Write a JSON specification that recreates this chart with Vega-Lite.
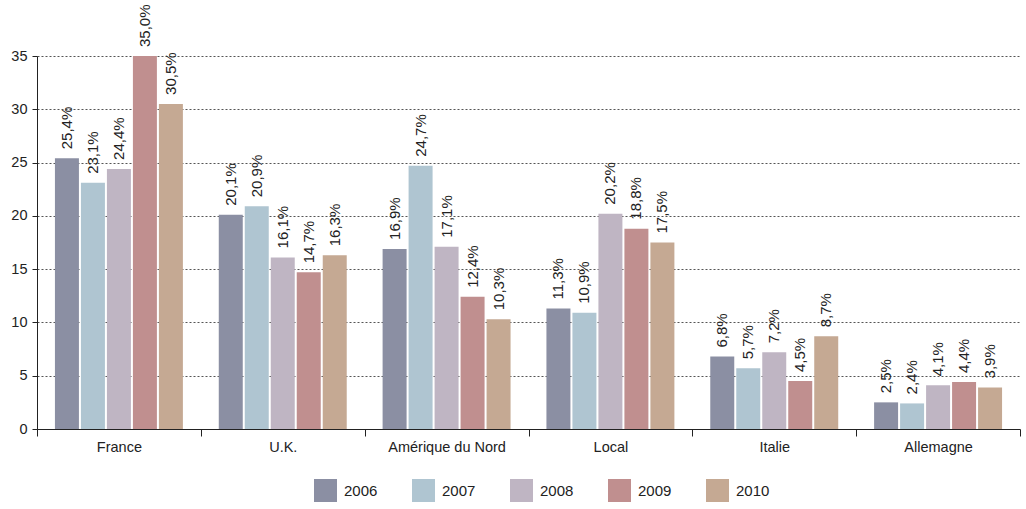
{
  "$schema": "https://vega.github.io/schema/vega-lite/v6.json",
  "width": 983,
  "height": 373,
  "autosize": {"type": "none"},
  "padding": {"left": 37, "top": 56, "right": 6, "bottom": 80},
  "background": "white",
  "config": {
    "font": "Liberation Sans",
    "view": {"stroke": null},
    "axis": {"labelFont": "Liberation Sans", "labelColor": "#222", "labelFontSize": 14.5, "domainColor": "#222", "tickColor": "#222", "title": null}
  },
  "data": {
    "values": [
      {"region": "France", "year": "2006", "v": 25.4},
      {"region": "France", "year": "2007", "v": 23.1},
      {"region": "France", "year": "2008", "v": 24.4},
      {"region": "France", "year": "2009", "v": 35.0},
      {"region": "France", "year": "2010", "v": 30.5},
      {"region": "U.K.", "year": "2006", "v": 20.1},
      {"region": "U.K.", "year": "2007", "v": 20.9},
      {"region": "U.K.", "year": "2008", "v": 16.1},
      {"region": "U.K.", "year": "2009", "v": 14.7},
      {"region": "U.K.", "year": "2010", "v": 16.3},
      {"region": "Amérique du Nord", "year": "2006", "v": 16.9},
      {"region": "Amérique du Nord", "year": "2007", "v": 24.7},
      {"region": "Amérique du Nord", "year": "2008", "v": 17.1},
      {"region": "Amérique du Nord", "year": "2009", "v": 12.4},
      {"region": "Amérique du Nord", "year": "2010", "v": 10.3},
      {"region": "Local", "year": "2006", "v": 11.3},
      {"region": "Local", "year": "2007", "v": 10.9},
      {"region": "Local", "year": "2008", "v": 20.2},
      {"region": "Local", "year": "2009", "v": 18.8},
      {"region": "Local", "year": "2010", "v": 17.5},
      {"region": "Italie", "year": "2006", "v": 6.8},
      {"region": "Italie", "year": "2007", "v": 5.7},
      {"region": "Italie", "year": "2008", "v": 7.2},
      {"region": "Italie", "year": "2009", "v": 4.5},
      {"region": "Italie", "year": "2010", "v": 8.7},
      {"region": "Allemagne", "year": "2006", "v": 2.5},
      {"region": "Allemagne", "year": "2007", "v": 2.4},
      {"region": "Allemagne", "year": "2008", "v": 4.1},
      {"region": "Allemagne", "year": "2009", "v": 4.4},
      {"region": "Allemagne", "year": "2010", "v": 3.9}
    ]
  },
  "transform": [
    {"calculate": "replace(format(datum.v, '.1f'), '.', ',') + '%'", "as": "label"}
  ],
  "encoding": {
    "x": {
      "field": "region", "type": "nominal", "sort": null,
      "scale": {"paddingInner": 0, "paddingOuter": 0},
      "axis": {"labelAngle": 0, "tickBand": "extent", "tickSize": 7, "labelPadding": 4, "grid": false, "domainWidth": 1}
    },
    "xOffset": {
      "field": "year", "type": "nominal",
      "scale": {"paddingInner": 0.077, "paddingOuter": 0.69}
    },
    "y": {
      "field": "v", "type": "quantitative",
      "scale": {"domain": [0, 35], "nice": false},
      "axis": {"values": [0, 5, 10, 15, 20, 25, 30, 35], "grid": true, "gridDash": [2, 2], "gridColor": "#555", "gridWidth": 1, "tickSize": 5, "labelPadding": 5}
    }
  },
  "layer": [
    {
      "mark": {"type": "bar"},
      "encoding": {
        "color": {
          "field": "year", "type": "nominal",
          "scale": {"domain": ["2006", "2007", "2008", "2009", "2010"], "range": ["#8b8fa3", "#afc5d1", "#bfb5c3", "#c08f8f", "#c5a993"]},
          "legend": {
            "title": null, "orient": "none", "direction": "horizontal", "legendX": 277, "legendY": 423,
            "symbolType": "square", "symbolSize": 529, "symbolStrokeWidth": 0, "symbolOpacity": 1,
            "labelFontSize": 15, "labelColor": "#222", "labelOffset": 7, "columnPadding": 34, "labelFont": "Liberation Sans"
          }
        }
      }
    },
    {
      "mark": {"type": "text", "angle": 270, "align": "left", "baseline": "middle", "dx": 9, "fontSize": 15, "color": "#222", "font": "Liberation Sans"},
      "encoding": {"text": {"field": "label"}}
    }
  ]
}
